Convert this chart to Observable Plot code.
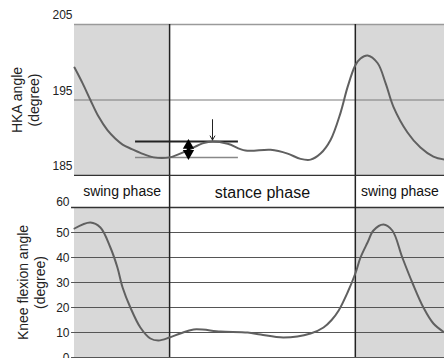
<!DOCTYPE html>
<html><head><meta charset="utf-8">
<script src="https://cdn.jsdelivr.net/npm/d3@7"></script>
<script src="https://cdn.jsdelivr.net/npm/@observablehq/plot@0.6"></script>
<style>
body{margin:0;background:#fff;font-family:"Liberation Sans",Arial,sans-serif;}
#chart svg{display:block;}
</style>
</head><body><div id="chart"></div>
<script>
// gait cycle position (arbitrary 0-100 units)
const phaseNames = ["swing phase", "stance phase", "swing phase"];
const phaseStart = [0, 25.7, 75.9];
const phaseEnd = [25.7, 75.9, 100];

const hkaX = [0, 2.2, 4.3, 6.5, 8.9, 11, 13, 15.5, 17.8, 21.4, 25.7, 30, 34.9, 37.3, 41.4, 46.2, 53, 57.6, 61.1, 63.8, 66.5, 69.2, 71.9, 73.8, 75.9, 77.3, 79.2, 81.9, 84.1, 86.2, 90, 93.5, 97, 100];
const hkaY = [199.3, 197.2, 195, 192.8, 191, 189.9, 189.1, 188.5, 188, 187.4, 187.4, 188.2, 189.3, 189.5, 189.2, 188.3, 188.4, 187.9, 187.2, 187.1, 187.9, 189.7, 193.3, 196.7, 199.6, 200.5, 200.9, 199.9, 197.2, 194.1, 190.7, 188.7, 187.5, 187.1];

const kneeX = [0, 4.3, 7, 9.7, 11.6, 13, 15.1, 17.8, 20.5, 22.7, 25.7, 28.6, 32.2, 39.5, 46.8, 50.3, 56.5, 63.8, 67.3, 69.5, 71.4, 73.8, 75.9, 77.3, 79.2, 80.8, 83.5, 85.9, 88.6, 91.4, 94.3, 97, 100];
const kneeY = [51.6, 54, 52, 44, 36, 28, 20, 12, 7.6, 6.8, 8, 9.6, 11.2, 10.4, 10, 9.2, 8, 9.6, 12, 15, 18.8, 26, 33.6, 40, 46, 50.8, 53.2, 50.8, 40, 29.6, 20, 13.6, 10];

const hkaTicks = [185, 195, 205];
const kneeTicks = [0, 10, 20, 30, 40, 50, 60];
const hkaLabel = "HKA angle\n(degree)";
const kneeLabel = "Knee flexion angle\n(degree)";

// annotation: peak and baseline of stance bump
const annotStart = 16.5, annotEnd = 44.3;
const annotPeak = 189.5, annotBase = 187.4;
const doubleArrowX = 30.8;
const downArrowX = 37.3, downArrowFrom = 192.4, downArrowTo = 189.7;

const phases = phaseNames.map((name, i) => ({name, x1: phaseStart[i], x2: phaseEnd[i]}));
const swings = phases.filter(d => d.name === "swing phase");
const bounds = [phaseStart[1], phaseStart[2]];
const hka = hkaX.map((x, i) => ({x, y: hkaY[i]}));
const knee = kneeX.map((x, i) => ({x, y: kneeY[i]}));
const curveColor = "#606060";
const shade = "#d8d8d8";
const font = "Liberation Sans, Arial, sans-serif";

const topPlot = Plot.plot({
  width: 444, height: 176,
  marginLeft: 74, marginRight: 0, marginTop: 24, marginBottom: 1,
  style: {fontFamily: font, color: "#222"},
  x: {domain: [0, 100], axis: null},
  y: {domain: [185, 205], axis: null},
  marks: [
    Plot.rect(swings, {x1: "x1", x2: "x2", y1: 185, y2: 205, fill: shade}),
    Plot.ruleY([205], {stroke: "#9a9a9a", strokeWidth: 1.5}),
    Plot.ruleY([195], {stroke: "#7a7a7a", strokeWidth: 1.2}),
    Plot.ruleY([185], {stroke: "#333", strokeWidth: 1.5}),
    Plot.ruleX(bounds, {stroke: "#222", strokeWidth: 1.5}),
    Plot.ruleY([annotBase], {x1: annotStart, x2: annotEnd, stroke: "#888", strokeWidth: 1.5}),
    Plot.ruleY([annotPeak], {x1: annotStart, x2: annotEnd, stroke: "#222", strokeWidth: 2}),
    Plot.line(hka, {x: "x", y: "y", curve: "catmull-rom", stroke: curveColor, strokeWidth: 2}),
    // bold double-headed arrow
    Plot.ruleX([doubleArrowX], {y1: annotBase + 0.5, y2: annotPeak - 0.5, stroke: "#000", strokeWidth: 3.5}),
    Plot.dot([{x: doubleArrowX, y: annotPeak}], {x: "x", y: "y", symbol: "triangle", r: 4.2, fill: "#000", dy: 4}),
    Plot.dot([{x: doubleArrowX, y: annotBase}], {x: "x", y: "y", symbol: "triangle", r: 4.2, fill: "#000", dy: -4, rotate: 180}),
    Plot.arrow([{x: downArrowX, y1: downArrowFrom, y2: downArrowTo}],
      {x1: "x", x2: "x", y1: "y1", y2: "y2", stroke: "#222", strokeWidth: 1, headLength: 7, headAngle: 60}),
    Plot.axisY(hkaTicks, {tickSize: 0, tickPadding: 2, dy: -9, fontSize: 12, label: null, tickFormat: d => d}),
    Plot.text([hkaLabel], {text: d => d, frameAnchor: "left", textAnchor: "middle", dx: -49, rotate: -90, fontSize: 14, lineHeight: 1.2, fill: "#222"})
  ]
});

const bottomPlot = Plot.plot({
  width: 444, height: 182,
  marginLeft: 74, marginRight: 0, marginTop: 0, marginBottom: 1,
  style: {fontFamily: font, color: "#222"},
  x: {domain: [0, 100], axis: null},
  y: {domain: [0, 72.4], axis: null},
  marks: [
    Plot.rect(swings, {x1: "x1", x2: "x2", y1: 0, y2: 60, fill: shade}),
    Plot.ruleY(kneeTicks.filter(d => d < 60), {stroke: "#555", strokeWidth: 1.2, x1: -0.8, x2: 100}),
    Plot.ruleY([60], {stroke: "#333", strokeWidth: 1.5, x1: -0.8, x2: 100}),
    Plot.ruleX(bounds, {stroke: "#222", strokeWidth: 1.5}),
    Plot.line(knee, {x: "x", y: "y", curve: "catmull-rom", stroke: curveColor, strokeWidth: 2}),
    Plot.text(swings, {x: d => (d.x1 + d.x2) / 2, y: 66.2, text: "name", fontSize: 14, fill: "#111"}),
    Plot.text(phases.filter(d => d.name === "stance phase"), {x: d => (d.x1 + d.x2) / 2, y: 65.8, text: "name", fontSize: 16, fill: "#111"}),
    Plot.axisY(kneeTicks.filter(d => d < 60), {tickSize: 0, tickPadding: 5, dy: 1, fontSize: 12, label: null}),
    Plot.axisY([60], {tickSize: 0, tickPadding: 5, dy: -5, fontSize: 12, label: null}),
    Plot.text([{t: kneeLabel, y: 30}], {text: "t", y: "y", frameAnchor: "left", textAnchor: "middle", dx: -43, rotate: -90, fontSize: 14, lineHeight: 1.2, fill: "#222"})
  ]
});

const chart = document.getElementById("chart");
chart.append(topPlot, bottomPlot);
</script>
</body></html>
